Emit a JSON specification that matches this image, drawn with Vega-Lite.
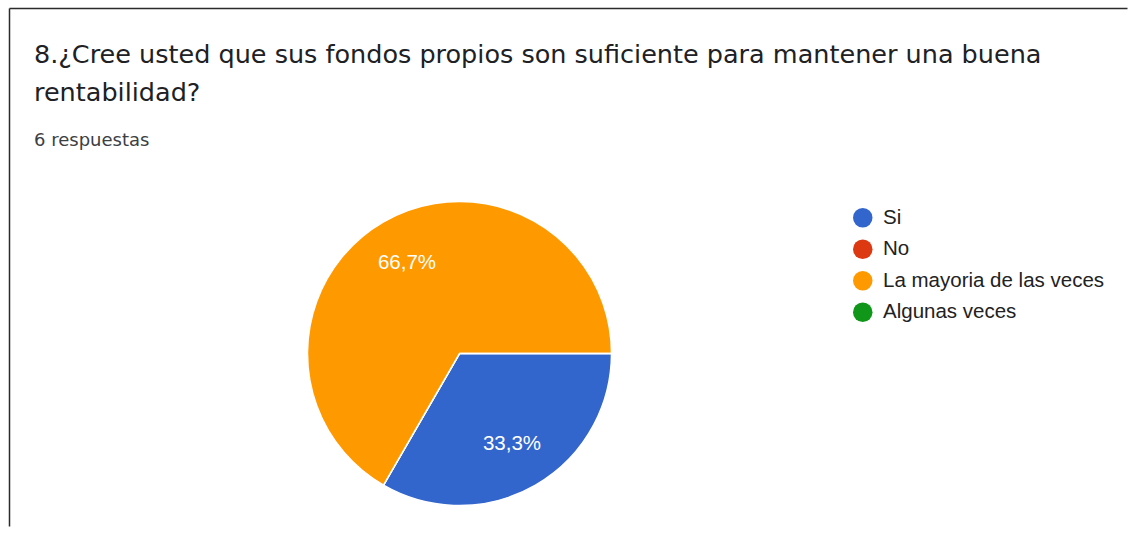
{
  "$schema": "https://vega.github.io/schema/vega-lite/v6.json",
  "width": 1118,
  "height": 518,
  "autosize": {"type": "none"},
  "padding": {"left": 9.5, "top": 8.5, "right": 0, "bottom": 0},
  "background": "white",
  "view": {"stroke": "#2b2b2b", "strokeWidth": 1.5, "strokeDash": [1118, 1636, 518, 0]},
  "config": {"view": {"stroke": "#2b2b2b", "strokeWidth": 1.5, "strokeDash": [1118, 1636, 518, 0]}},
  "title": {
    "text": ["8.¿Cree usted que sus fondos propios son suficiente para mantener una buena", "rentabilidad?"],
    "subtitle": "6 respuestas",
    "anchor": "start",
    "frame": "group",
    "orient": "top",
    "offset": -141.5,
    "dx": 24.5,
    "font": "DejaVu Sans",
    "fontSize": 25.5,
    "fontWeight": "normal",
    "color": "#202124",
    "lineHeight": 37.5,
    "subtitleFont": "DejaVu Sans",
    "subtitleFontSize": 18,
    "subtitleColor": "#3c4043",
    "subtitlePadding": 26
  },
  "data": {
    "values": [
      {"respuesta": "Si", "n": 2, "orden": 1, "etiqueta": "33,3%"},
      {"respuesta": "No", "n": 0, "orden": 2, "etiqueta": "0%"},
      {"respuesta": "La mayoria de las veces", "n": 4, "orden": 3, "etiqueta": "66,7%"},
      {"respuesta": "Algunas veces", "n": 0, "orden": 4, "etiqueta": "0%"}
    ]
  },
  "encoding": {
    "theta": {"field": "n", "type": "quantitative", "stack": true, "scale": {"range": [1.5708, 7.854]}},
    "order": {"field": "orden", "type": "quantitative"}
  },
  "layer": [
    {
      "mark": {"type": "arc", "x": 450, "y": 345, "outerRadius": 152, "stroke": "white", "strokeWidth": 1.5},
      "encoding": {
        "color": {
          "field": "respuesta",
          "type": "nominal",
          "sort": ["Si", "No", "La mayoria de las veces", "Algunas veces"],
          "scale": {"domain": ["Si", "No", "La mayoria de las veces", "Algunas veces"], "range": ["#3366cc", "#dc3912", "#ff9900", "#109618"]},
          "legend": {
            "title": null,
            "orient": "none",
            "legendX": 843,
            "legendY": 199,
            "padding": 0,
            "symbolType": "circle",
            "symbolSize": 380,
            "symbolStrokeWidth": 0,
            "labelOffset": 10,
            "rowPadding": 10.5,
            "labelFont": "Liberation Sans",
            "labelFontSize": 20.5,
            "labelColor": "#222222",
            "labelLimit": 400
          }
        }
      }
    },
    {
      "transform": [{"filter": "datum.n > 0"}],
      "mark": {"type": "text", "x": 450, "y": 345, "radius": 105, "fill": "white", "font": "Liberation Sans", "fontSize": 20.5},
      "encoding": {"text": {"field": "etiqueta"}}
    }
  ]
}
